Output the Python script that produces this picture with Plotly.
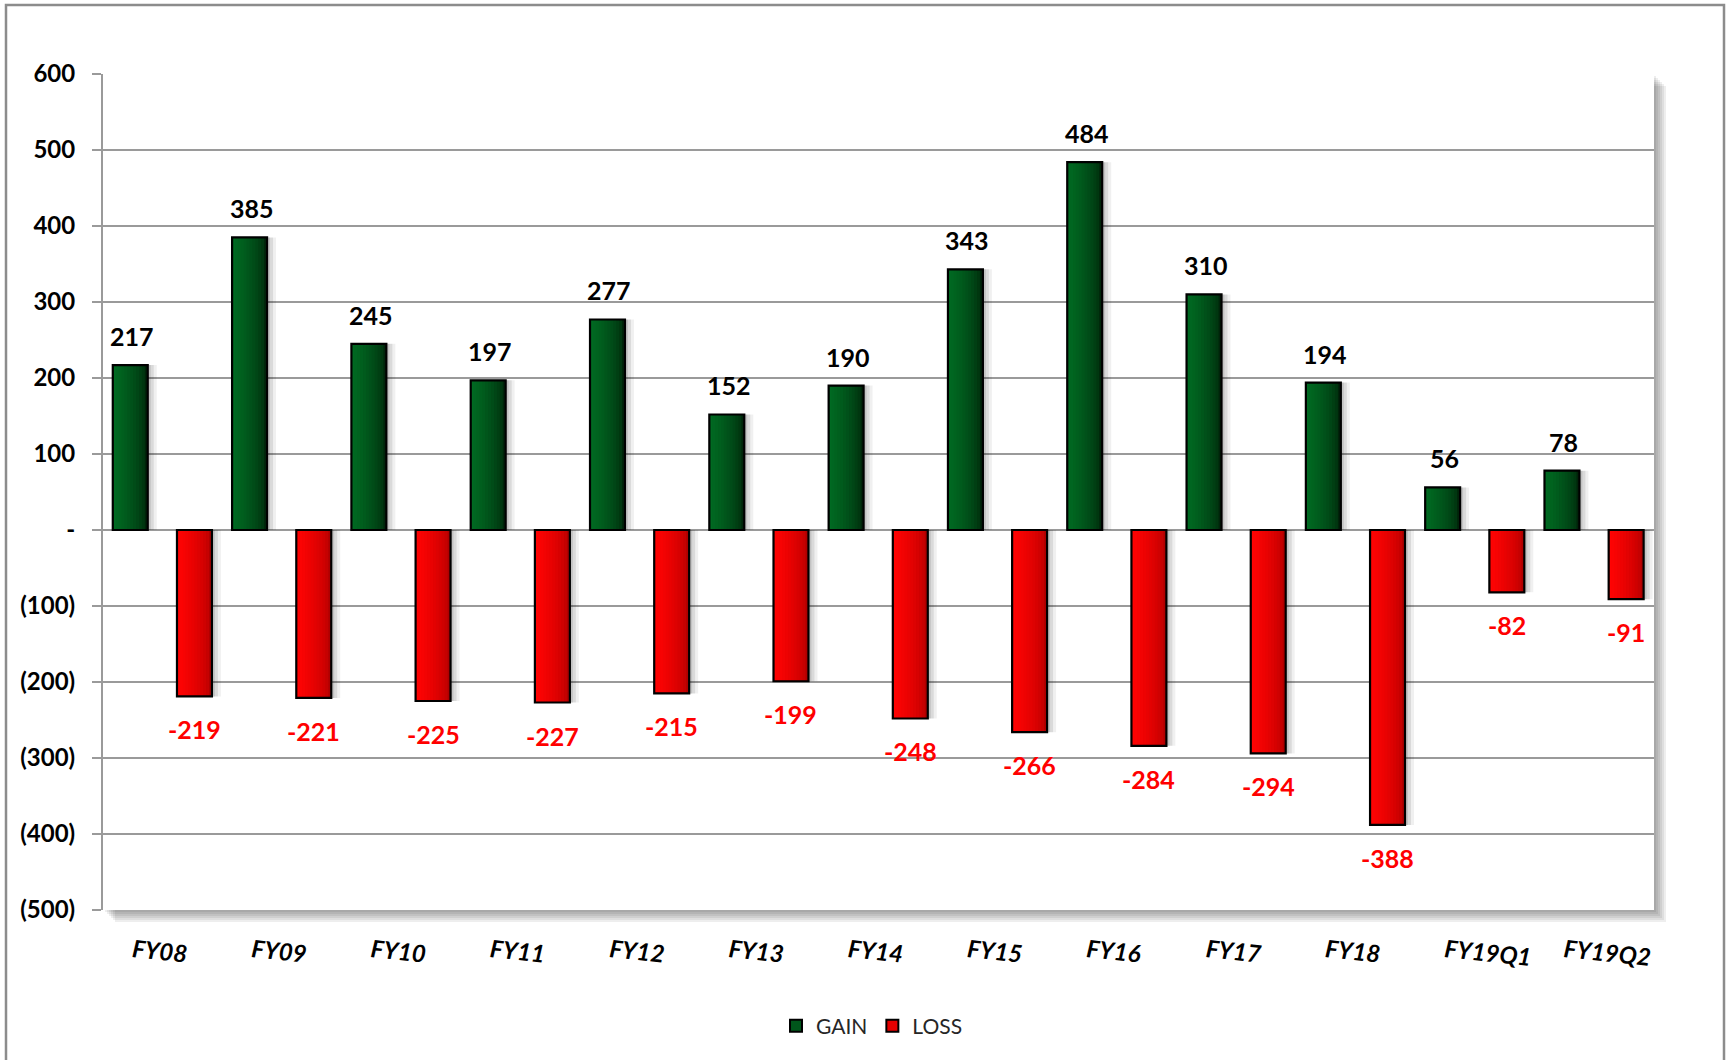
import plotly.graph_objects as go

# ---- data ----
categories = ["FY08", "FY09", "FY10", "FY11", "FY12", "FY13", "FY14",
              "FY15", "FY16", "FY17", "FY18", "FY19Q1", "FY19Q2"]
gain = [217, 385, 245, 197, 277, 152, 190, 343, 484, 310, 194, 56, 78]
loss = [-219, -221, -225, -227, -215, -199, -248, -266, -284, -294, -388, -82, -91]

y_ticks = [600, 500, 400, 300, 200, 100, 0, -100, -200, -300, -400, -500]
y_ticktext = ["600", "500", "400", "300", "200", "100", "-",
              "(100)", "(200)", "(300)", "(400)", "(500)"]

# ---- page geometry (pixels) ----
W, H = 1726, 1060
L, R, T, B = 103, 1654, 74, 910
PW, PH = R - L, B - T
GROUP_PX = PW / len(categories)


def px2x(px):
    return (px - L) / PW


def py2y(py):
    return (B - py) / PH


# bar placement inside each category slot (category units)
BAR_W = 0.293
GAIN_OFF = -0.418
LOSS_OFF = 0.120


def hex_mix(c0, c1, t):
    a = [int(c0[i:i + 2], 16) for i in (1, 3, 5)]
    b = [int(c1[i:i + 2], 16) for i in (1, 3, 5)]
    return "#" + "".join(f"{round(a[i] + (b[i] - a[i]) * t):02x}" for i in range(3))


GREEN_DARK, GREEN_LIGHT = "#00240a", "#006a22"
RED_DARK, RED_LIGHT = "#b00000", "#ff0303"

fig = go.Figure()

N_LAYERS = 12


def add_series(values, offset, dark, light):
    # soft drop shadow to the right
    for sh, alpha in ((3, 0.10), (6, 0.09), (9, 0.06)):
        fig.add_trace(go.Bar(
            x=categories, y=values, width=BAR_W, offset=offset + sh / GROUP_PX,
            marker=dict(color=f"rgba(0,0,0,{alpha})", line=dict(width=0)),
            showlegend=False, hoverinfo="skip"))
    # horizontal gradient: stacked layers, light on the left, darkening towards the right
    for k in range(N_LAYERS):
        t = (k / (N_LAYERS - 1)) ** 0.55
        fig.add_trace(go.Bar(
            x=categories, y=values, width=BAR_W * (1 - k / N_LAYERS), offset=offset,
            marker=dict(color=hex_mix(dark, light, t), line=dict(width=0)),
            showlegend=False, hoverinfo="skip"))
    # black outline
    fig.add_trace(go.Bar(
        x=categories, y=values, width=BAR_W, offset=offset,
        marker=dict(color="rgba(0,0,0,0)", line=dict(color="black", width=2.2)),
        showlegend=False, hoverinfo="skip"))


add_series(gain, GAIN_OFF, GREEN_DARK, GREEN_LIGHT)
add_series(loss, LOSS_OFF, RED_DARK, RED_LIGHT)

# legend entries
fig.add_trace(go.Bar(x=[None], y=[None], name="GAIN",
                     marker=dict(color="#00561b", line=dict(color="black", width=2))))
fig.add_trace(go.Bar(x=[None], y=[None], name="LOSS",
                     marker=dict(color="#e60000", line=dict(color="black", width=2))))

# value labels
gain_shift = (GAIN_OFF + BAR_W / 2) * GROUP_PX
loss_shift = (LOSS_OFF + BAR_W / 2) * GROUP_PX
annotations = []
for c, g, l in zip(categories, gain, loss):
    annotations.append(dict(
        x=c, y=g, text=str(g), showarrow=False, xshift=gain_shift + 2, yshift=12,
        yanchor="bottom", font=dict(family="Lato", size=25, color="black", weight="bold")))
    annotations.append(dict(
        x=c, y=l, text=str(l), showarrow=False, xshift=loss_shift, yshift=-16,
        yanchor="top", font=dict(family="Lato", size=25, color="#ff0000", weight="bold")))

# frame, plot-area shadow and white plot area
shapes = [dict(type="rect", xref="paper", yref="paper",
               x0=px2x(6), x1=px2x(1724), y0=py2y(1090), y1=py2y(5),
               line=dict(color="#8c8c8c", width=2.5), fillcolor="white", layer="below")]
for off in (2, 4, 6, 8, 10, 12):
    shapes.append(dict(type="rect", xref="paper", yref="paper",
                       x0=px2x(L + off), x1=px2x(R + off), y0=py2y(B + off), y1=py2y(T + off),
                       line=dict(width=0), fillcolor="rgba(0,0,0,0.065)", layer="below"))
shapes.append(dict(type="rect", xref="paper", yref="paper",
                   x0=0, x1=1, y0=0, y1=1,
                   line=dict(width=0), fillcolor="white", layer="below"))

GRID = "#9a9a9a"

fig.update_layout(
    width=W, height=H,
    margin=dict(l=L, r=W - R, t=T, b=H - B, pad=0),
    paper_bgcolor="white",
    plot_bgcolor="rgba(0,0,0,0)",
    barmode="overlay",
    showlegend=True,
    legend=dict(orientation="h", x=px2x(872), xanchor="center",
                y=py2y(1026), yanchor="middle",
                font=dict(family="Lato", size=21, color="#262626"),
                itemsizing="constant", bgcolor="rgba(0,0,0,0)"),
    annotations=annotations,
    shapes=shapes,
    xaxis=dict(type="category", range=[-0.5, len(categories) - 0.5],
               showgrid=False, zeroline=False, showline=False, ticks="",
               tickangle=6, ticklabelstandoff=22, ticklabelshift=-30,
               tickfont=dict(family="Lato", size=24, color="black",
                             weight="bold", style="italic")),
    xaxis2=dict(overlaying="x", anchor="free", position=500 / 1100,
                type="linear", range=[-0.5, len(categories) - 0.5],
                tick0=-0.5, dtick=0.5, ticks="outside", ticklen=9,
                tickwidth=2, tickcolor="#8a8a8a", showticklabels=False,
                showline=True, linecolor="#8a8a8a", linewidth=2.5,
                showgrid=False, zeroline=False),
    yaxis=dict(range=[-500, 600], tickvals=y_ticks, ticktext=y_ticktext,
               showgrid=True, gridcolor=GRID, gridwidth=2,
               zeroline=False, showline=True, linecolor=GRID, linewidth=2,
               ticks="outside", ticklen=9, tickwidth=2, tickcolor=GRID,
               ticklabelstandoff=12,
               tickfont=dict(family="Lato", size=24, color="black", weight="bold")),
)

fig.write_html("out.html")
